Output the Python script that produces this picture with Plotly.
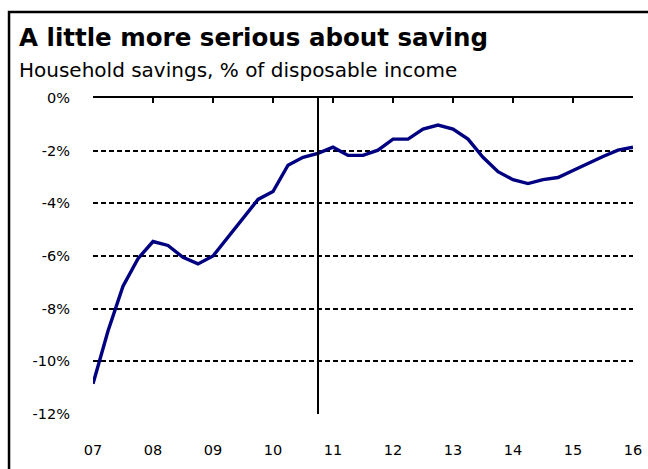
import plotly.graph_objects as go

# Household savings ratio, quarterly, 2007Q1 - 2016Q1 (% of disposable income)
years = [2007, 2008, 2009, 2010, 2011, 2012, 2013, 2014, 2015, 2016]
quarters = [y + q / 4 for y in years[:-1] for q in range(4)] + [2016.0]
savings = [
    -10.85, -8.85, -7.15, -6.1,
    -5.45, -5.6, -6.05, -6.3,
    -6.0, -5.3, -4.55, -3.85,
    -3.55, -2.55, -2.25, -2.1,
    -1.87, -2.18, -2.18, -1.98,
    -1.56, -1.56, -1.18, -1.03,
    -1.18, -1.56, -2.25, -2.8,
    -3.1, -3.25, -3.1, -3.02,
    -2.75, -2.48, -2.22, -1.98,
    -1.87,
]
x_labels = ["07", "08", "09", "10", "11", "12", "13", "14", "15", "16"]
y_vals = [0, -2, -4, -6, -8, -10, -12]
y_labels = ["0%", "-2%", "-4%", "-6%", "-8%", "-10%", "-12%"]
marker_quarter = 2010.75

FONT = "DejaVu Sans, Verdana, sans-serif"

fig = go.Figure()
fig.add_trace(go.Scatter(
    x=quarters, y=savings, mode="lines",
    line=dict(color="#000080", width=3.4),
    hoverinfo="skip", showlegend=False,
))
# empty trace on the top axis so the axis line with ticks is drawn at 0%
fig.add_trace(go.Scatter(
    x=[years[0], years[-1]], y=[None, None], xaxis="x2",
    showlegend=False, hoverinfo="skip",
))

fig.update_layout(
    width=648, height=469, autosize=False,
    margin=dict(l=93, r=15, t=98, b=55, pad=0, autoexpand=False),
    paper_bgcolor="white", plot_bgcolor="white",
    font=dict(family=FONT, color="black"),
    xaxis=dict(
        range=[2007, 2016], tickvals=years, ticktext=x_labels,
        showgrid=False, zeroline=False, showline=False, automargin=False,
        ticks="", ticklabelstandoff=25,
        tickfont=dict(size=14.5, family=FONT, color="black"),
    ),
    xaxis2=dict(
        range=[2007, 2016], overlaying="x", side="top", automargin=False,
        tickvals=years, showticklabels=False,
        showline=True, linecolor="black", linewidth=2,
        ticks="inside", ticklen=5, tickwidth=2, tickcolor="black",
        showgrid=False, zeroline=False,
    ),
    yaxis=dict(
        range=[-12, 0], tickvals=y_vals, ticktext=y_labels,
        showgrid=True, gridcolor="black", gridwidth=1.5, griddash="5px,3px",
        zeroline=False, showline=False, ticks="", automargin=False,
        ticklabelstandoff=22,
        tickfont=dict(size=14.5, family=FONT, color="black"),
    ),
    shapes=[
        dict(type="line", xref="x", yref="y",
             x0=marker_quarter, x1=marker_quarter, y0=0, y1=-12,
             line=dict(color="black", width=2)),
        dict(type="path", xref="paper", yref="paper",
             path="M 1.2,1.272 L -0.1555,1.272 L -0.1555,-0.3",
             line=dict(color="black", width=2.5)),
    ],
    annotations=[
        dict(text="<b>A little more serious about saving</b>",
             xref="paper", yref="paper", x=-0.1407, y=1.2425,
             xanchor="left", yanchor="top", showarrow=False,
             font=dict(size=24.5, family=FONT, color="black")),
        dict(text="Household savings, % of disposable income",
             xref="paper", yref="paper", x=-0.1407, y=1.132,
             xanchor="left", yanchor="top", showarrow=False,
             font=dict(size=20, family=FONT, color="black")),
    ],
)

fig.write_html("out.html")
